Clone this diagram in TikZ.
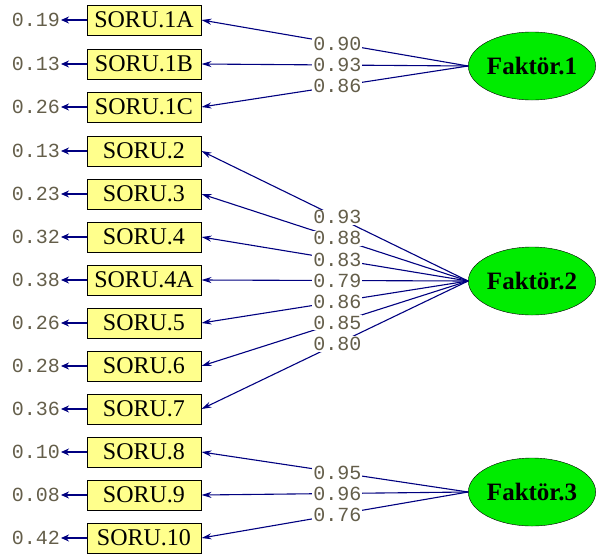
\documentclass[tikz,border=0pt]{standalone}
\usepackage{fontspec}
\setmainfont{Liberation Serif}
\setmonofont{Liberation Mono}
\newfontfamily\boxfont{Liberation Serif}
\newfontfamily\numfont{Liberation Mono}
\usetikzlibrary{shapes.geometric, arrows.meta}
\definecolor{boxyellow}{RGB}{255,255,140}
\definecolor{factgreen}{RGB}{0,236,0}
\definecolor{pathblue}{RGB}{0,0,128}
\definecolor{numgray}{RGB}{100,94,74}

\begin{document}
\begin{tikzpicture}[x=1pt, y=-1pt,
        item/.style = {draw, line width=1pt, fill=boxyellow, minimum width=114pt, minimum height=30pt, inner sep=0pt, font=\boxfont\fontsize{24}{26}\selectfont},
        fact/.style = {draw, ellipse, fill=factgreen, minimum width=125pt, minimum height=68pt, inner sep=0pt, font=\boxfont\bfseries\fontsize{25}{27}\selectfont},
        errv/.style = {text=numgray, inner sep=1pt, font=\numfont\fontsize{20}{22}\selectfont},
        load/.style = {pathblue, line width=1.1pt, -{Stealth[length=10pt, width=6pt]}},
        errarr/.style = {pathblue, line width=1.8pt, -{Stealth[length=8pt, width=7pt]}},
        lbl/.style = {fill=white, text=numgray, inner sep=1pt, pos=0.49, font=\numfont\fontsize{20}{22}\selectfont}]
        \useasboundingbox (0,0) rectangle (608,558);

        % items
        \node[item] at (144, 20) (s1a) {SORU.1A};
        \node[item] at (144, 64) (s1b) {SORU.1B};
        \node[item] at (144, 107) (s1c) {SORU.1C};
        \node[item] at (144, 151) (s2) {SORU.2};
        \node[item] at (144, 194) (s3) {SORU.3};
        \node[item] at (144, 237) (s4) {SORU.4};
        \node[item] at (144, 280) (s4a) {SORU.4A};
        \node[item] at (144, 323) (s5) {SORU.5};
        \node[item] at (144, 366) (s6) {SORU.6};
        \node[item] at (144, 409) (s7) {SORU.7};
        \node[item] at (144, 452) (s8) {SORU.8};
        \node[item] at (144, 495) (s9) {SORU.9};
        \node[item] at (144, 538) (s10) {SORU.10};

        % factors
        \node[fact] at (532, 66) (f1) {Faktör.1};
        \node[fact] at (532, 281) (f2) {Faktör.2};
        \node[fact] at (532, 492) (f3) {Faktör.3};

        % error variances
        \node[errv, anchor=east] at (61, 20) (e1a) {0.19};
        \node[errv, anchor=east] at (61, 64) (e1b) {0.13};
        \node[errv, anchor=east] at (61, 107) (e1c) {0.26};
        \node[errv, anchor=east] at (61, 151) (e2) {0.13};
        \node[errv, anchor=east] at (61, 194) (e3) {0.23};
        \node[errv, anchor=east] at (61, 237) (e4) {0.32};
        \node[errv, anchor=east] at (61, 280) (e4a) {0.38};
        \node[errv, anchor=east] at (61, 323) (e5) {0.26};
        \node[errv, anchor=east] at (61, 366) (e6) {0.28};
        \node[errv, anchor=east] at (61, 409) (e7) {0.36};
        \node[errv, anchor=east] at (61, 452) (e8) {0.10};
        \node[errv, anchor=east] at (61, 495) (e9) {0.08};
        \node[errv, anchor=east] at (61, 538) (e10) {0.42};

        \draw[errarr] (s1a) -- (e1a);
        \draw[errarr] (s1b) -- (e1b);
        \draw[errarr] (s1c) -- (e1c);
        \draw[errarr] (s2) -- (e2);
        \draw[errarr] (s3) -- (e3);
        \draw[errarr] (s4) -- (e4);
        \draw[errarr] (s4a) -- (e4a);
        \draw[errarr] (s5) -- (e5);
        \draw[errarr] (s6) -- (e6);
        \draw[errarr] (s7) -- (e7);
        \draw[errarr] (s8) -- (e8);
        \draw[errarr] (s9) -- (e9);
        \draw[errarr] (s10) -- (e10);

        % loadings
        \draw[load] (f1.west) -- node[lbl] {0.90} (s1a.east);
        \draw[load] (f1.west) -- node[lbl] {0.93} (s1b.east);
        \draw[load] (f1.west) -- node[lbl] {0.86} (s1c.east);

        \draw[load] (f2.west) -- node[lbl] {0.93} (s2.east);
        \draw[load] (f2.west) -- node[lbl] {0.88} (s3.east);
        \draw[load] (f2.west) -- node[lbl] {0.83} (s4.east);
        \draw[load] (f2.west) -- node[lbl] {0.79} (s4a.east);
        \draw[load] (f2.west) -- node[lbl] {0.86} (s5.east);
        \draw[load] (f2.west) -- node[lbl] {0.85} (s6.east);
        \draw[load] (f2.west) -- node[lbl] {0.80} (s7.east);

        \draw[load] (f3.west) -- node[lbl] {0.95} (s8.east);
        \draw[load] (f3.west) -- node[lbl] {0.96} (s9.east);
        \draw[load] (f3.west) -- node[lbl] {0.76} (s10.east);
\end{tikzpicture}
\end{document}
